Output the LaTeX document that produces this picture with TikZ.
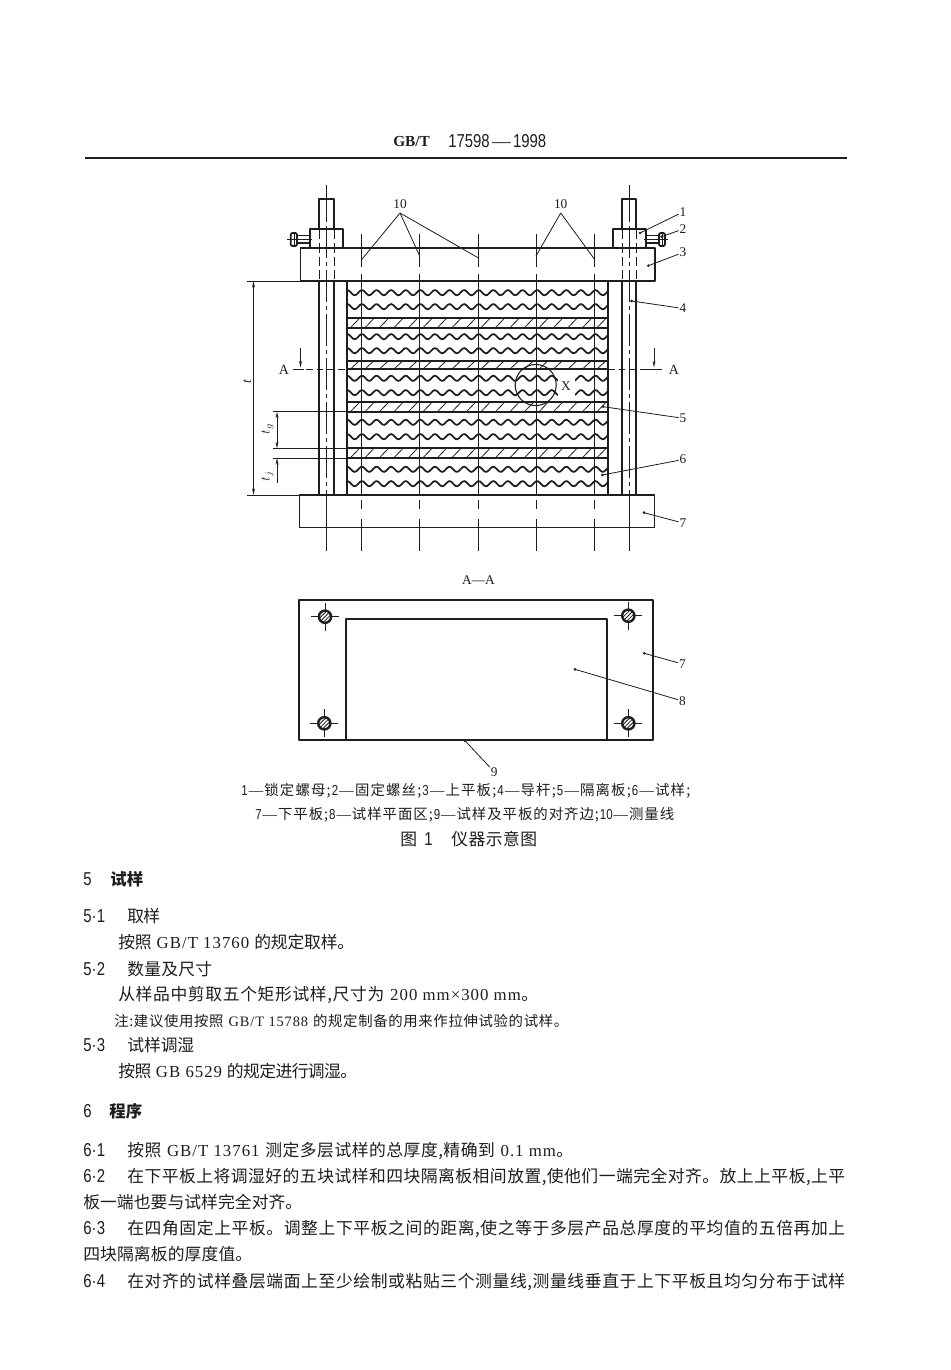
\documentclass[tikz,border=0pt]{standalone}
\usepackage{fontspec}
\usetikzlibrary{arrows.meta}
\setmainfont{Noto Sans CJK SC}
\newfontfamily\lat{Liberation Serif}
\newfontfamily\latb[LetterSpace=6]{Liberation Serif}
\newfontfamily\nsans[FakeStretch=0.8]{Liberation Sans}
\definecolor{ink}{HTML}{1E1E1E}
\tikzset{
  thickline/.style={draw=ink,line width=1.3pt,line join=round},
  thinline/.style={draw=ink,line width=0.6pt},
  midline/.style={draw=ink,line width=0.8pt},
  hid/.style={draw=ink,line width=0.7pt,dash pattern=on 7pt off 3pt},
  longdash/.style={draw=ink,line width=0.6pt,dash pattern=on 24pt off 3pt on 3pt off 3pt},
  wavy line/.style={draw=ink,line width=1.3pt},
  dimline/.style={draw=ink,line width=0.6pt,{Stealth[length=5pt,width=2.2pt]}-{Stealth[length=5pt,width=2.2pt]}},
  dimone/.style={draw=ink,line width=0.6pt,-{Stealth[length=5pt,width=2.2pt]}},
  lead/.style={draw=ink,line width=0.6pt},
  lab/.style={font=\lat\fontsize{10}{11}\selectfont,text=ink,inner sep=0.6pt},
  dimlab/.style={font=\lat\itshape\fontsize{10}{11}\selectfont,text=ink,inner sep=0pt,rotate=90},
  txt/.style={anchor=base west,inner sep=0pt,text=ink,font=\fontsize{12.6}{14}\selectfont},
  smalltxt/.style={txt,font=\fontsize{10.8}{12}\selectfont},
  numtxt/.style={anchor=base west,inner sep=0pt,text=ink,font=\nsans\fontsize{14}{15}\selectfont},
}
\makeatletter
\newcommand\spreadtext[1]{\@tfor\spc:=#1\do{\spc\hskip 0pt plus 1fil minus 1fil\relax}\unskip}
\makeatother
\newcommand\tl[6][txt]{\node[#1] (#2) at (#3,#4) {\hbox to \dimexpr #5pt*3/4\relax{\spreadtext{#6}}};}
\newcommand\wave[1]{\draw[wavy line] plot[domain=347.5:607.5,samples=150,smooth] (\x,{#1+2.6*sin((\x-351)*24.66)});}
\newcommand\band[2]{%
  \begin{scope}
    \clip (347,#1) rectangle (608,#2);
    \foreach \hx in {336,350.5,...,612}{\draw[thinline] (\hx,#2) -- (\hx+9,#1);}
  \end{scope}
  \draw[thickline] (347,#1) -- (608,#1);
  \draw[thickline] (347,#2) -- (608,#2);}
\newcommand\leaderline[6]{%
  \coordinate (#1tip) at (#5,#6);
  \node[lab] (#1) at (#3,#4) {#2};
  \draw[lead] (#1) -- (#1tip);
  \fill[ink] (#1tip) circle (1.1pt);}
\newcommand\hole[3]{%
  \coordinate (#1) at (#2,#3);
  \begin{scope}
    \draw[draw=ink,line width=1.8pt] (#1) circle (4.6pt);
    \clip (#1) circle (4.6pt);
    \foreach \hd in {-6,-3,0,3,6}{\draw[draw=ink,line width=0.6pt] (#2-8+\hd*1.3,#3+8) -- (#2+8+\hd*1.3,#3-8);}
  \end{scope}
  \draw[thinline] (#2-14,#3) -- (#2-7,#3) (#2+7,#3) -- (#2+14,#3) (#2,#3-14) -- (#2,#3-7) (#2,#3+7) -- (#2,#3+14);}
\begin{document}
\begin{tikzpicture}[x=0.75pt,y=-0.75pt]
\useasboundingbox[fill=white] (0,0) rectangle (950,1370);

% header
\node[txt,font=\lat\bfseries\fontsize{11.5}{13}\selectfont] (hgb) at (393,146) {GB/T};
\tl[numtxt]{hno}{448}{147}{98}{{{\nsans 17598}}{{\lat —}}{{\nsans 1998}}}
\coordinate (rl) at (85,158); \coordinate (rr) at (847,158);
\draw[draw=ink,line width=1.15pt] (rl) -- (rr);

% ---- front view
\draw[thickline] (319.3,229) -- (319.3,199) -- (334,199) -- (334,229);
\draw[thickline] (622.3,229) -- (622.3,199) -- (636,199) -- (636,229);
\draw[thickline] (310,248) -- (310,229) -- (343,229) -- (343,248);
\draw[thickline] (612.7,248) -- (612.7,229) -- (645.7,229) -- (645.7,248);
\draw[thickline] (300.5,248) rectangle (655,281);
\draw[thickline] (299.5,495) rectangle (654.5,527.5);
\foreach \rx in {319.3,334,622.3,636}{
  \draw[hid] (\rx,230) -- (\rx,280);
  \draw[thickline] (\rx,281) -- (\rx,495);}
\draw[thickline] (347.3,281) -- (347.3,495);
\draw[thickline] (607.7,281) -- (607.7,495);
% centre lines of rods
\foreach \cx in {326.3,629}{
  \draw[thinline] (\cx,185) -- (\cx,222);
  \draw[longdash] (\cx,226) -- (\cx,495);
  \draw[thinline] (\cx,495) -- (\cx,551);}
% left screw
\draw[thinline] (287,239.5) -- (312,239.5);
\draw[midline] (297,235.5) -- (310,235.5) (297,243) -- (310,243);
\draw[thickline,rounded corners=1pt] (290.7,233) rectangle (297,246);
\draw[thinline] (294,233) -- (294,246);
% right screw
\draw[thinline] (644,239.5) -- (668,239.5);
\draw[midline] (646,235.5) -- (659,235.5) (646,243) -- (659,243);
\draw[thickline,rounded corners=1pt] (659,233) rectangle (665,246);
\draw[thinline] (662,233) -- (662,246);

% layers
\wave{292.7}\wave{306.7}
\band{318.3}{327.7}
\wave{336.7}\wave{350.7}
\band{360.7}{369}
\wave{378.3}\wave{392.7}
\band{402.3}{411.7}
\wave{422.3}\wave{436.7}
\band{448.3}{457.7}
\wave{469.3}\wave{483.7}

% measuring lines
\foreach \mx in {361.3,419.7,478,536,594.3}{
  \draw[thinline] (\mx,234) -- (\mx,267);
  \draw[thinline] (\mx,274) -- (\mx,495);
  \draw[thinline] (\mx,500) -- (\mx,509);
  \draw[thinline] (\mx,519) -- (\mx,551);}

% detail circle X
\fill[white] (557.5,372) rectangle (575,399);
\coordinate (xc) at (535.7,385);
\draw[midline] (xc) circle (15.4pt);
\node[lab,font=\lat\fontsize{10}{11}\selectfont] (xlab) at (566,386.5) {X};

% section mark A-A
\coordinate (al1) at (293,369); \coordinate (al2) at (347,369);
\coordinate (ar1) at (608,369); \coordinate (ar2) at (662,369);
\draw[thinline] (al1) -- (304,369);
\draw[thinline,dash pattern=on 5pt off 3pt] (306,369) -- (al2);
\draw[thinline,dash pattern=on 5pt off 3pt] (ar1) -- (646,369);
\draw[thinline] (646,369) -- (ar2);
\coordinate (aa1) at (300.5,348); \coordinate (aa2) at (300.5,367.5);
\coordinate (ab1) at (654,348); \coordinate (ab2) at (654,367.5);
\draw[dimone] (aa1) -- (aa2);
\draw[dimone] (ab1) -- (ab2);
\node[lab,font=\lat\fontsize{10.5}{11}\selectfont] (aleft) at (284,369.5) {A};
\node[lab,font=\lat\fontsize{10.5}{11}\selectfont] (aright) at (674,369.5) {A};

% dimensions
\coordinate (t1) at (253.5,281); \coordinate (t2) at (253.5,495);
\draw[thinline] (247,281) -- (300.5,281);
\draw[thinline] (247,495) -- (299.5,495);
\draw[dimline] (t1) -- (t2);
\node[dimlab] (tl) at (247.3,381.5) {t};
\coordinate (g1) at (277,411.7); \coordinate (g2) at (277,448.3);
\coordinate (j1) at (277,458); \coordinate (j2) at (277,483);
\draw[thinline] (272.5,411.7) -- (347,411.7);
\draw[thinline] (272.5,448.3) -- (347,448.3);
\draw[thinline] (272.5,458) -- (347,458);
\draw[dimline] (g1) -- (g2);
\draw[dimone] (j2) -- (j1);
\node[dimlab] (tg) at (267.5,429) {$t_{g}$};
\node[dimlab] (tj) at (267.5,476) {$t_{j}$};

% leader labels, front view
\node[lab] (n10a) at (400,204) {10};
\coordinate (m1) at (361.3,260); \coordinate (m2) at (419.7,256); \coordinate (m3) at (478,257.7);
\draw[lead] (400,213) -- (m1) (400,213) -- (m2) (400,213) -- (m3);
\node[lab] (n10b) at (560.7,204) {10};
\coordinate (m4) at (536,256); \coordinate (m5) at (594.3,259);
\draw[lead] (560.7,213) -- (m4) (560.7,213) -- (m5);
\leaderline{n1}{1}{683}{212}{640}{233}
\leaderline{n2}{2}{683}{229}{661.7}{236.7}
\leaderline{n3}{3}{683}{252.5}{648.3}{265.7}
\leaderline{n4}{4}{683}{308.5}{631.7}{301}
\leaderline{n5}{5}{683}{418.3}{603.3}{406.7}
\leaderline{n6}{6}{683}{459.5}{602.3}{475}
\leaderline{n7}{7}{683}{523}{644}{512.7}

% ---- plan view
\node[lab] (aatitle) at (478.5,580) {A—A};
\draw[thickline] (299.3,600) rectangle (653.3,740);
\draw[thickline] (346,740) -- (346,619) -- (606.7,619) -- (606.7,740);
\hole{h1}{325}{616.7}
\hole{h2}{628.3}{615.7}
\hole{h3}{324.3}{723.3}
\hole{h4}{628.3}{723.3}
\leaderline{p7}{7}{682.5}{664}{644.3}{653.3}
\leaderline{p8}{8}{682.5}{701}{575}{669.3}
\leaderline{p9}{9}{494.3}{772}{465}{740.7}

% ---- text
\tl[smalltxt]{c1}{241}{795}{449}{{{\nsans 1}}{{\lat —}}锁定螺母;{{\nsans 2}}{{\lat —}}固定螺丝;{{\nsans 3}}{{\lat —}}上平板;{{\nsans 4}}{{\lat —}}导杆;{{\nsans 5}}{{\lat —}}隔离板;{{\nsans 6}}{{\lat —}}试样;}
\tl[smalltxt]{c2}{255}{819}{419}{{{\nsans 7}}{{\lat —}}下平板;{{\nsans 8}}{{\lat —}}试样平面区;{{\nsans 9}}{{\lat —}}试样及平板的对齐边;{{\nsans 10}}{{\lat —}}测量线}
\node[txt] (c3a) at (400,845) {图};
\node[numtxt] (c3b) at (424,845) {1};
\tl{c3c}{451}{845}{86}{仪器示意图}

\node[numtxt] (s5) at (83,885) {5};
\tl[txt,font=\bfseries\fontsize{12.3}{14}\selectfont]{s5t}{110}{885}{33}{试样}
\tl[numtxt]{s51}{83}{922.5}{22}{{{5·}}1}
\tl{s51t}{127}{922.5}{33}{取样}
\tl{l1}{118}{948.5}{236}{按照{{\latb\ GB/T 13760\ }}的规定取样。}
\tl[numtxt]{s52}{83}{975}{22}{{{5·}}2}
\tl{s52t}{127}{975}{85}{数量及尺寸}
\tl{l2}{118}{1000.5}{420}{从样品中剪取五个矩形试样,尺寸为{{\latb\ 200 mm×300 mm}}。}
\tl[smalltxt]{l3}{114}{1026}{454}{注:建议使用按照{{\latb\ GB/T 15788\ }}的规定制备的用来作拉伸试验的试样。}
\tl[numtxt]{s53}{83}{1051}{22}{{{5·}}3}
\tl{s53t}{127}{1051}{67}{试样调湿}
\tl{l4}{118}{1077.5}{239}{按照{{\latb\ GB 6529\ }}的规定进行调湿。}
\node[numtxt] (s6) at (83,1117) {6};
\tl[txt,font=\bfseries\fontsize{12.3}{14}\selectfont]{s6t}{109}{1117}{33}{程序}
\tl[numtxt]{s61}{83}{1156}{22}{{{6·}}1}
\tl{l5}{127}{1156}{446}{按照{{\latb\ GB/T 13761\ }}测定多层试样的总厚度,精确到{{\latb\ 0.1 mm}}。}
\tl[numtxt]{s62}{83}{1182.5}{22}{{{6·}}2}
\tl{l6}{127}{1182.5}{718}{在下平板上将调湿好的五块试样和四块隔离板相间放置,使他们一端完全对齐。放上上平板,上平}
\tl{l7}{83}{1208.5}{219}{板一端也要与试样完全对齐。}
\tl[numtxt]{s63}{83}{1234}{22}{{{6·}}3}
\tl{l8}{127}{1234}{718}{在四角固定上平板。调整上下平板之间的距离,使之等于多层产品总厚度的平均值的五倍再加上}
\tl{l9}{83}{1260.5}{169}{四块隔离板的厚度值。}
\tl[numtxt]{s64}{83}{1287}{22}{{{6·}}4}
\tl{l10}{127}{1287}{718}{在对齐的试样叠层端面上至少绘制或粘贴三个测量线,测量线垂直于上下平板且均匀分布于试样}
\end{tikzpicture}
\end{document}
